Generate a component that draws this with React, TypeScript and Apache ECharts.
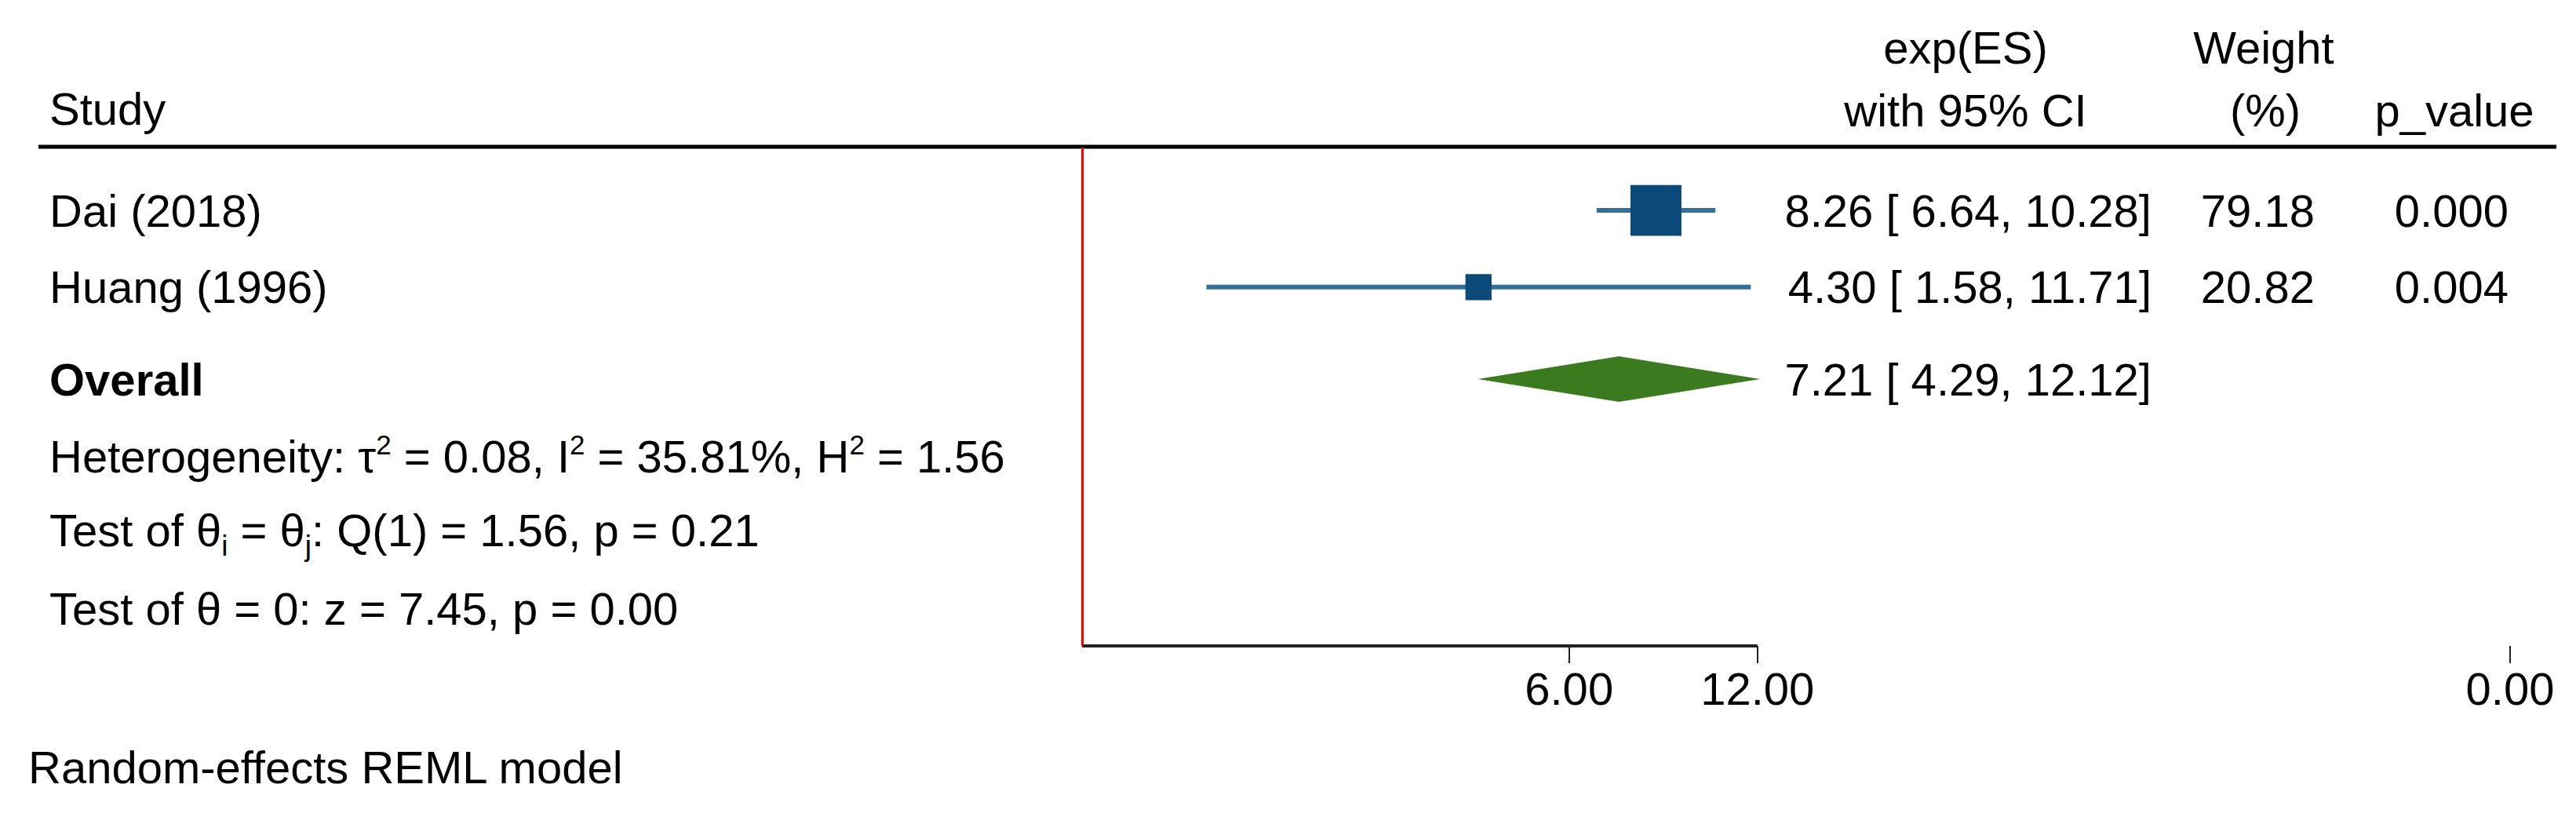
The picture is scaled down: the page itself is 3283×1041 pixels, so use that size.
import React, { useEffect, useRef } from "react";
import * as echarts from "echarts";

// ---------- data ----------
const studies = ["Dai (2018)", "Huang (1996)"];
const effects = [8.26, 4.3];
const ciLow = [6.64, 1.58];
const ciHigh = [10.28, 11.71];
const weights = [79.18, 20.82];
const pValues = [0.0, 0.004];
const overallLabel = "Overall";
const overallEffect = [7.21]; // exp(ES)
const overallCi = [4.29, 12.12];
const hetTau2 = 0.08;
const hetI2 = 35.81;
const hetH2 = 1.56;
const testQ = 1.56;
const testQdf = 1;
const testQp = 0.21;
const testZ = 7.45;
const testZp = 0.0;
const nullValue = 1;
const axisRange = [1, 12];
const tickValues = [6, 12, 191.3];
const tickLabels = ["6.00", "12.00", "0.00"];
const headers = {
  study: "Study",
  es1: "exp(ES)",
  es2: "with 95% CI",
  w1: "Weight",
  w2: "(%)",
  p: "p_value",
};
const footnote = "Random-effects REML model";

// ---------- layout / style ----------
const W = 3283;
const H = 1041;
const FS = 58;
const FF = '"Liberation Sans", Arial, Helvetica, sans-serif';
const GRID = { left: 1379, right: 84, top: 188, bottom: 218 };
const Y_MAX = 6.5;
const ROW_STUDY = [0.82, 1.82];
const ROW_OVERALL = 3.02;
const ROW_STATS = [4.0, 5.0, 6.01];
const SQUARE_K = 7.3;
const DIAMOND_H = 58;
const C_SQUARE = "#0b4a78";
const C_CI = "#33709a";
const C_DIAMOND = "#3b7a1f";

const ln = Math.log;
const fmt2 = (v: number) => v.toFixed(2);
const pad5 = (v: number) => fmt2(v).padStart(5, " ");
const esText = (e: number, lo: number, hi: number) => `${fmt2(e)} [${pad5(lo)}, ${pad5(hi)}]`;

export default function App() {
  const ref = useRef<HTMLDivElement>(null);

  useEffect(() => {
    document.body.style.margin = "0";
    if (!ref.current) return;
    const chart = echarts.init(ref.current, undefined, { renderer: "svg" });

    const ciData = studies.map((_, i) => [ln(ciLow[i]), ln(ciHigh[i]), ROW_STUDY[i]]);
    const squareData = studies.map((_, i) => [ln(effects[i]), ROW_STUDY[i], SQUARE_K * Math.sqrt(weights[i])]);
    const diamondData = [[ln(overallCi[0]), ln(overallEffect[0]), ln(overallCi[1]), ROW_OVERALL]];
    const tickLn = tickValues.map((v) => ln(v));

    const labelFor = (v: number) => {
      let best = 0;
      let bd = Infinity;
      tickLn.forEach((t, i) => {
        const d = Math.abs(t - v);
        if (d < bd) {
          bd = d;
          best = i;
        }
      });
      return tickLabels[best];
    };

    chart.setOption({
      animation: false,
      backgroundColor: "#ffffff",
      grid: { ...GRID, containLabel: false },
      xAxis: {
        type: "value",
        min: 0,
        max: ln(tickValues[2]),
        axisLine: { show: false, onZero: false },
        splitLine: { show: false },
        axisTick: {
          show: true,
          customValues: tickLn,
          length: 22,
          lineStyle: { color: "#222", width: 2 },
        },
        axisLabel: {
          customValues: tickLn,
          formatter: (v: number) => labelFor(v),
          fontSize: FS,
          fontFamily: FF,
          color: "#000",
          margin: 25,
        },
      },
      yAxis: { type: "value", min: 0, max: Y_MAX, inverse: true, show: false },
      series: [
        {
          type: "line",
          data: [
            [ln(axisRange[0]), Y_MAX],
            [ln(axisRange[1]), Y_MAX],
          ],
          symbol: "none",
          clip: false,
          silent: true,
          lineStyle: { color: "#222", width: 4 },
          markLine: {
            silent: true,
            symbol: ["none", "none"],
            label: { show: false },
            lineStyle: { color: "#ff0000", width: 3, type: "solid", opacity: 1 },
            data: [{ xAxis: ln(nullValue) }],
          },
          z: 1,
        },
        {
          type: "custom",
          data: ciData,
          encode: { x: [0, 1], y: 2 },
          clip: false,
          renderItem: (params: any, api: any) => {
            const p1 = api.coord([api.value(0), api.value(2)]);
            const p2 = api.coord([api.value(1), api.value(2)]);
            return {
              type: "line",
              shape: { x1: p1[0], y1: p1[1], x2: p2[0], y2: p2[1] },
              style: { stroke: C_CI, lineWidth: 6 },
            };
          },
          z: 2,
        },
        {
          type: "scatter",
          data: squareData,
          symbol: "rect",
          symbolSize: (val: number[]) => [val[2], val[2]],
          itemStyle: { color: C_SQUARE, opacity: 1 },
          silent: true,
          z: 3,
        },
        {
          type: "custom",
          data: diamondData,
          encode: { x: [0, 1, 2], y: 3 },
          clip: false,
          renderItem: (params: any, api: any) => {
            const y = api.value(3);
            const a = api.coord([api.value(0), y]);
            const c = api.coord([api.value(1), y]);
            const b = api.coord([api.value(2), y]);
            return {
              type: "polygon",
              shape: {
                points: [
                  [a[0], a[1]],
                  [c[0], c[1] - DIAMOND_H / 2],
                  [b[0], b[1]],
                  [c[0], c[1] + DIAMOND_H / 2],
                ],
              },
              style: { fill: C_DIAMOND },
            };
          },
          z: 3,
        },
      ],
    });

    const py = (row: number) => (chart.convertToPixel({ gridIndex: 0 }, [0, row]) as number[])[1];

    const base = { fontSize: FS, fontFamily: FF, fill: "#000" };
    const txt = (x: number, y: number, text: string, align: string, extra: any = {}) => ({
      type: "text",
      x,
      y,
      silent: true,
      style: { ...base, text, align, verticalAlign: "middle", ...extra },
    });

    const richSup = {
      n: { fontSize: FS, fontFamily: FF, fill: "#000", padding: [3, 0, 0, 0] },
      sup: { fontSize: 35, fontFamily: FF, fill: "#000", verticalAlign: "top" },
    };
    const richSub = {
      n: { fontSize: FS, fontFamily: FF, fill: "#000", padding: [0, 0, 9, 0] },
      sub: { fontSize: 37, fontFamily: FF, fill: "#000", verticalAlign: "bottom" },
    };

    const g: any[] = [];
    // headers
    g.push(txt(63, 138, headers.study, "left"));
    g.push(txt(2505, 60, headers.es1, "center"));
    g.push(txt(2505, 140, headers.es2, "center"));
    g.push(txt(2885, 60, headers.w1, "center"));
    g.push(txt(2887, 140, headers.w2, "center"));
    g.push(txt(3128, 140, headers.p, "center"));
    g.push({
      type: "line",
      silent: true,
      shape: { x1: 49, y1: GRID.top - 1, x2: 3258, y2: GRID.top - 1 },
      style: { stroke: "#000", lineWidth: 5 },
    });
    // study rows
    studies.forEach((s, i) => {
      const y = py(ROW_STUDY[i]);
      g.push(txt(63, y, s, "left"));
      g.push(txt(2742, y, esText(effects[i], ciLow[i], ciHigh[i]), "right"));
      g.push(txt(2950, y, fmt2(weights[i]), "right"));
      g.push(txt(3197, y, pValues[i].toFixed(3), "right"));
    });
    // overall
    const yo = py(ROW_OVERALL);
    g.push(txt(63, yo, overallLabel, "left", { fontWeight: "bold" }));
    g.push(txt(2742, yo, esText(overallEffect[0], overallCi[0], overallCi[1]), "right"));
    // stats
    g.push(
      txt(
        63,
        py(ROW_STATS[0]) + 1,
        `{n|Heterogeneity: \u03c4}{sup|2}{n| = ${fmt2(hetTau2)}, I}{sup|2}{n| = ${fmt2(hetI2)}%, H}{sup|2}{n| = ${fmt2(hetH2)}}`,
        "left",
        { rich: richSup }
      )
    );
    g.push(
      txt(
        63,
        py(ROW_STATS[1]) + 4,
        `{n|Test of \u03b8}{sub|i}{n| = \u03b8}{sub|j}{n|: Q(${testQdf}) = ${fmt2(testQ)}, p = ${fmt2(testQp)}}`,
        "left",
        { rich: richSub }
      )
    );
    g.push(txt(63, py(ROW_STATS[2]), `Test of \u03b8 = 0: z = ${fmt2(testZ)}, p = ${fmt2(testZp)}`, "left"));
    // footnote
    g.push(txt(36, 977, footnote, "left"));

    chart.setOption({ graphic: g });

    return () => chart.dispose();
  }, []);

  return <div ref={ref} style={{ width: W, height: H }} />;
}
